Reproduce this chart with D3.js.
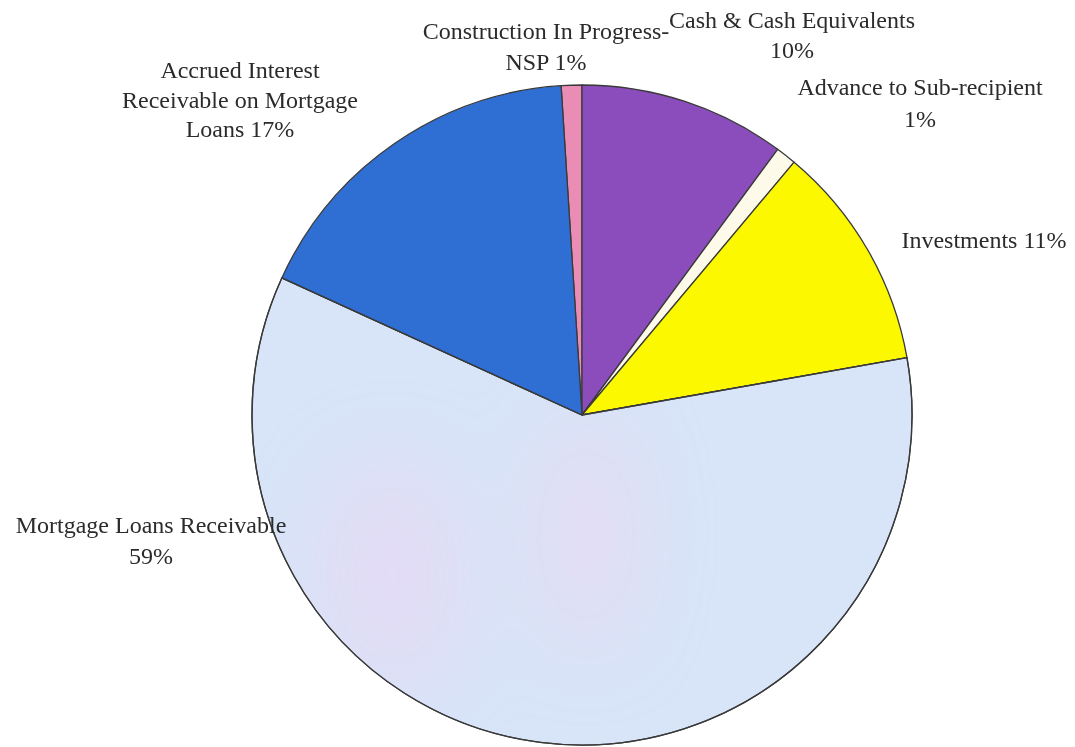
<!DOCTYPE html>
<html>
<head>
<meta charset="utf-8">
<script src="https://cdn.jsdelivr.net/npm/d3@7"></script>
<style>
  html, body { margin: 0; padding: 0; background: #ffffff; }
  svg { display: block; }
  text { font-family: "Liberation Serif", "Times New Roman", serif; }
</style>
</head>
<body>
<svg id="chart" width="1075" height="747"></svg>
<script>
// Asset composition, in percent, listed clockwise from just left of 12 o'clock
const categories = [
  "Construction In Progress-NSP",
  "Cash & Cash Equivalents",
  "Advance to Sub-recipient",
  "Investments",
  "Mortgage Loans Receivable",
  "Accrued Interest Receivable on Mortgage Loans"
];
const percents = [1, 10, 1, 11, 59, 17];
const sliceColors = ["#ea8db4", "#8b4dbc", "#fdfaea", "#fbf800", "#d8e4f8", "#2f6fd4"];

// Label text broken into lines; the last line carries the percentage
const labelLines = [
  ["Construction In Progress-", "NSP {p}"],
  ["Cash & Cash Equivalents", "{p}"],
  ["Advance to Sub-recipient", "{p}"],
  ["Investments {p}"],
  ["Mortgage Loans Receivable", "{p}"],
  ["Accrued Interest", "Receivable on Mortgage", "Loans {p}"]
];

// Where each label block sits: centre x and first baseline
const labelLayout = [
  { x: 546, y: 39, lh: 31 },
  { x: 792, y: 28, lh: 30 },
  { x: 920, y: 95, lh: 32 },
  { x: 984, y: 248, lh: 30 },
  { x: 151, y: 533, lh: 31 },
  { x: 240, y: 78, lh: 29.5 }
];

const cx = 582, cy = 415, radius = 330;
const svg = d3.select("#chart");

const data = categories.map((c, i) => ({ name: c, value: percents[i], color: sliceColors[i], i }));
const total = d3.sum(percents);
const start = -(percents[0] / total) * 2 * Math.PI;

const pie = d3.pie()
  .sort(null)
  .value(d => d.value)
  .startAngle(start)
  .endAngle(start + 2 * Math.PI);

const arc = d3.arc().innerRadius(0).outerRadius(radius);
const arcs = pie(data);

const defs = svg.append("defs");
const blur = defs.append("filter").attr("id", "soft")
  .attr("x", "-50%").attr("y", "-50%").attr("width", "200%").attr("height", "200%");
blur.append("feGaussianBlur").attr("stdDeviation", 40);

const g = svg.append("g").attr("transform", `translate(${cx},${cy})`);

g.selectAll("path.slice")
  .data(arcs)
  .join("path")
  .attr("class", "slice")
  .attr("d", arc)
  .attr("fill", d => d.data.color)
  .attr("stroke", "#3a3a3a")
  .attr("stroke-width", 1.3)
  .attr("stroke-linejoin", "round");

// faint lavender tint inside the large slice
const big = arcs[4];
defs.append("clipPath").attr("id", "bigClip")
  .append("path").attr("d", arc(big));
const tint = g.append("g").attr("clip-path", "url(#bigClip)").attr("filter", "url(#soft)");
tint.append("ellipse").attr("cx", -190).attr("cy", 160).attr("rx", 70).attr("ry", 110)
  .attr("fill", "#ecd6f4").attr("opacity", 0.55);
tint.append("ellipse").attr("cx", 5).attr("cy", 120).attr("rx", 40).attr("ry", 110)
  .attr("fill", "#f0d6f0").attr("opacity", 0.6);

// outline redrawn on top of the tint
g.append("path").attr("d", arc(big)).attr("fill", "none")
  .attr("stroke", "#3a3a3a").attr("stroke-width", 1.3);

// labels
const labels = svg.append("g");
arcs.forEach((a, i) => {
  const lay = labelLayout[i];
  const lines = labelLines[i].map(s => s.replace("{p}", a.data.value + "%"));
  const t = labels.append("text")
    .attr("text-anchor", "middle")
    .attr("font-size", 24)
    .attr("fill", "#2b2b2b");
  lines.forEach((ln, k) => {
    t.append("tspan").attr("x", lay.x).attr("y", lay.y + k * lay.lh).text(ln);
  });
});
</script>
</body>
</html>
